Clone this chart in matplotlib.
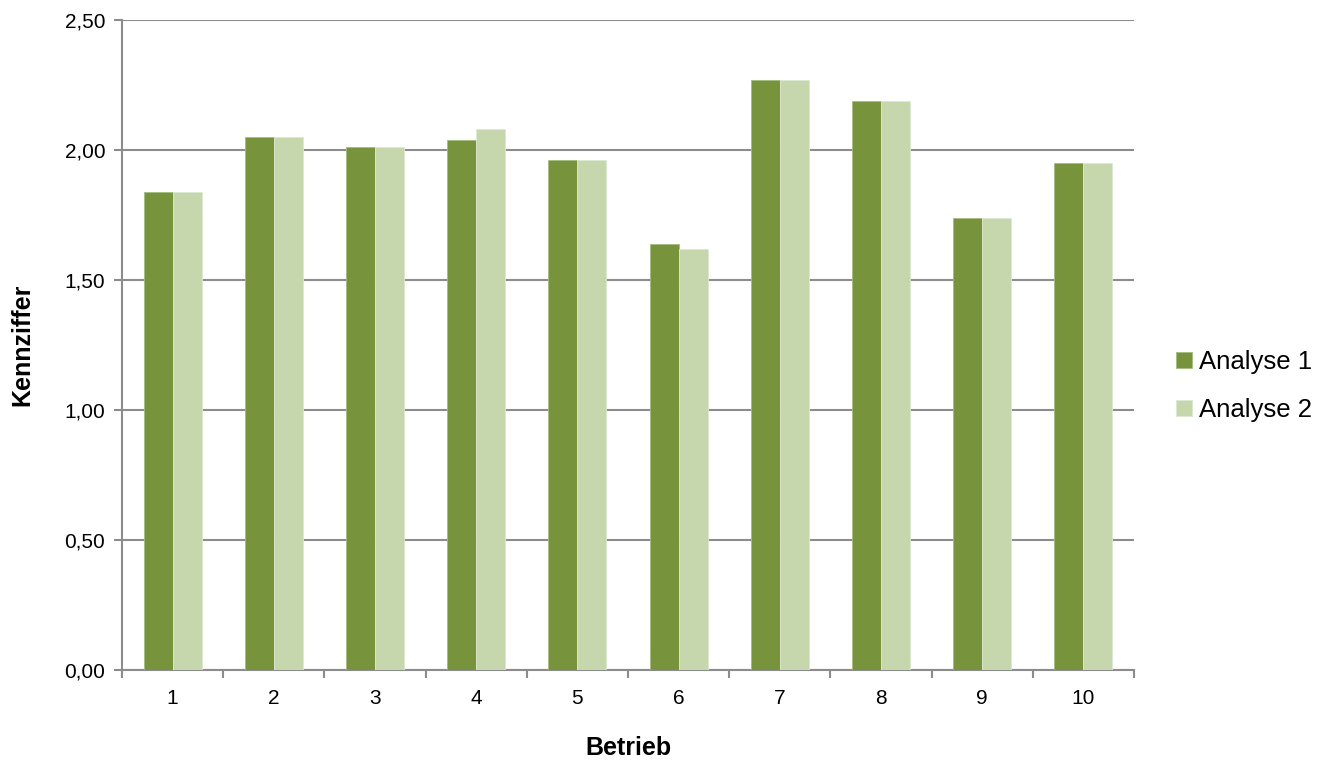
import numpy as np
import matplotlib.pyplot as plt
from matplotlib.ticker import FuncFormatter, FixedLocator

plt.rcParams['font.family'] = ['Liberation Sans', 'DejaVu Sans']

betriebe = ['1', '2', '3', '4', '5', '6', '7', '8', '9', '10']
analyse1 = [1.84, 2.05, 2.01, 2.04, 1.96, 1.64, 2.27, 2.19, 1.74, 1.95]
analyse2 = [1.84, 2.05, 2.01, 2.08, 1.96, 1.62, 2.27, 2.19, 1.74, 1.95]

dark = '#77933C'
light = '#C6D7AE'
grid_col = '#8C8C8C'

fig = plt.figure(figsize=(13.27, 7.6), dpi=100)
ax = fig.add_axes([122/1327, 90/760, 1012/1327, 650/760])

x = np.arange(len(betriebe))
w = 0.286
ax.bar(x - w/2, analyse1, w, color=dark, edgecolor='#A5BC80', linewidth=0.6, label='Analyse 1', zorder=3)
ax.bar(x + w/2, analyse2, w, color=light, edgecolor='#DDE8CF', linewidth=0.6, label='Analyse 2', zorder=3)

ax.set_xlim(-0.5, len(betriebe) - 0.5)
ax.set_ylim(0, 2.5)
ax.set_yticks(np.arange(0, 2.51, 0.5))
ax.yaxis.set_major_formatter(FuncFormatter(lambda v, p: f'{v:.2f}'.replace('.', ',')))
ax.set_xticks(x)
ax.set_xticklabels(betriebe)
ax.xaxis.set_minor_locator(FixedLocator(np.arange(-0.5, len(betriebe), 1.0)))
ax.tick_params(axis='x', which='major', length=0, pad=14, labelsize=15)
ax.tick_params(axis='x', which='minor', length=6, width=1.5, color=grid_col)
ax.tick_params(axis='y', length=6, width=1.5, color=grid_col, pad=6, labelsize=15)

ax.grid(axis='y', color=grid_col, linewidth=1.5, zorder=0)
for s in ['top', 'right']:
    ax.spines[s].set_visible(False)
for s in ['left', 'bottom']:
    ax.spines[s].set_color(grid_col)
    ax.spines[s].set_linewidth(1.5)

ax.set_xlabel('Betrieb', fontsize=18, fontweight='bold', labelpad=20)
ax.set_ylabel('Kennziffer', fontsize=18, fontweight='bold', labelpad=22)

fig.legend(loc='center left', bbox_to_anchor=(1166/1327, 1 - 386/760), frameon=False,
           fontsize=18.5, handlelength=0.6, handleheight=0.6, handletextpad=0.3,
           labelspacing=0.95, borderaxespad=0)

fig.savefig('out.png', dpi=100)
